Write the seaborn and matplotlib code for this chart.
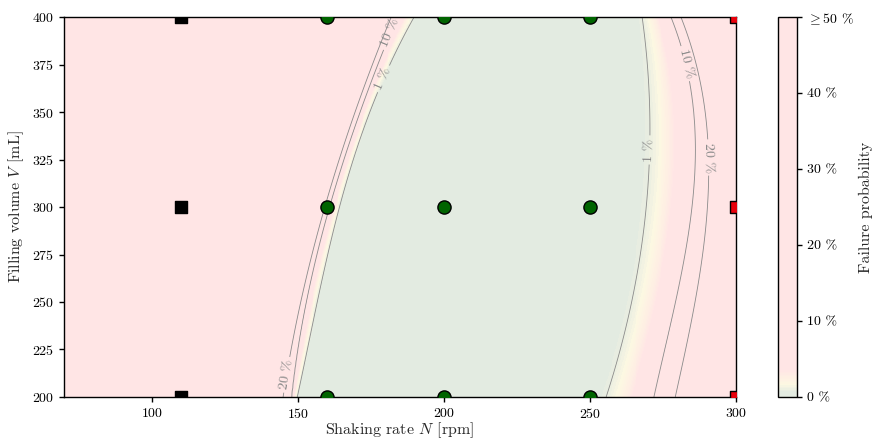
import numpy as np
import pandas as pd
import matplotlib
matplotlib.use("Agg")
import matplotlib.pyplot as plt
import seaborn as sns
from matplotlib.colors import LinearSegmentedColormap, Normalize
from matplotlib.cm import ScalarMappable

# ---------------- data ----------------
# experiment points
fail_N = [110, 110, 110]
fail_V = [200, 300, 400]
ok_N = [160, 160, 160, 200, 200, 200, 250, 250, 250]
ok_V = [200, 300, 400, 200, 300, 400, 200, 300, 400]
fail2_N = [300, 300, 300]
fail2_V = [200, 300, 400]

# failure-probability contour positions (shaking rate N) at several volumes
left_V = [200, 250, 300, 350, 400]
left_p20 = [145.0, 151.0, 159.3, 169.6, 182.0]
left_p10 = [148.0, 152.9, 161.0, 171.3, 184.0]
left_p01 = [150.0, 156.0, 165.3, 174.0, 190.0]

right_V = [200, 250, 300, 335, 400]
right_p01 = [255.6, 264.1, 269.6, 270.3, 267.9]
right_p10 = [272.0, 278.8, 285.8, 285.5, 277.8]
right_p20 = [279.3, 285.6, 290.9, 289.9, 281.2]

levels = [0.01, 0.10, 0.20]
level_labels = ["1 %", "10 %", "20 %"]
cbar_ticks = [0.0, 0.1, 0.2, 0.3, 0.4, 0.5]
cbar_ticklabels = ["0 %", "10 %", "20 %", "30 %", "40 %", r"$\geq 50$ %"]

# ---------------- build probability field from the contour table ----------------
def logit(p):
    return np.log(p / (1 - p))

L01, L10, L20 = logit(0.01), logit(0.10), logit(0.20)

xg = np.linspace(70, 300, 700)
yg = np.linspace(200, 400, 300)
X, Y = np.meshgrid(xg, yg)

def smooth_boundary(vs, xs, v):
    # smooth curve through the read-off boundary points
    return np.polyval(np.polyfit(vs, xs, 3), v)

def side_profile(x, xa, xb, xc, la, lb, lc):
    s1 = (lb - la) / (xb - xa)
    s2 = (lc - lb) / (xc - xb)
    return np.where(x <= xb, la + (x - xa) * s1,
           np.where(x <= xc, lb + (x - xb) * s2, lc + (x - xc) * s2))

a20 = smooth_boundary(left_V, left_p20, yg)
a10 = smooth_boundary(left_V, left_p10, yg)
a01 = smooth_boundary(left_V, left_p01, yg)
b01 = smooth_boundary(right_V, right_p01, yg)
b10 = smooth_boundary(right_V, right_p10, yg)
b20 = smooth_boundary(right_V, right_p20, yg)

Lfield = np.empty_like(X)
for i in range(len(yg)):
    fl = side_profile(xg, a20[i], a10[i], a01[i], L20, L10, L01)
    fr = side_profile(xg, b01[i], b10[i], b20[i], L01, L10, L20)
    Lfield[i] = np.maximum(fl, fr)
P = 1 / (1 + np.exp(-Lfield))

# ---------------- styling ----------------
sns.set_style("ticks")
plt.rcParams.update({
    "font.family": ["serif"],
    "font.serif": ["cmr10", "DejaVu Serif"],
    "mathtext.fontset": "cm",
    "axes.formatter.use_mathtext": True,
    "axes.unicode_minus": False,
    "axes.edgecolor": "black",
    "axes.linewidth": 1.0,
    "xtick.color": "black",
    "ytick.color": "black",
    "xtick.major.width": 1.0,
    "ytick.major.width": 1.0,
    "xtick.major.size": 3.5,
    "ytick.major.size": 3.5,
})

green_c = "#e3ebe1"
yellow_c = "#fdf8e2"
pink_c = "#ffe5e5"
cmap = LinearSegmentedColormap.from_list(
    "fail", [(0.0, green_c), (0.012, green_c), (0.032, yellow_c), (0.07, pink_c), (1.0, pink_c)])
norm = Normalize(0, 0.5)

fig = plt.figure(figsize=(8.75, 4.41), dpi=100)
ax = fig.add_axes([64 / 875, 44 / 441, 672 / 875, 380 / 441])
cax = fig.add_axes([778 / 875, 44 / 441, 19 / 875, 380 / 441])

ax.pcolormesh(X, Y, np.clip(P, 0, 0.5), cmap=cmap, norm=norm, shading="auto", rasterized=True, zorder=0)
cs = ax.contour(X, Y, P, levels=levels, colors="#8a8a8a", linewidths=0.6, zorder=1)
fmt = {lv: lab for lv, lab in zip(levels, level_labels)}
ax.clabel(cs, fmt=fmt, fontsize=10, colors="#8a8a8a", inline=True, inline_spacing=3,
          manual=[(145.0, 212), (182.5, 391), (180.0, 367), (281.5, 375), (270.9, 330), (289.0, 326)])

df_fail = pd.DataFrame({"N": fail_N, "V": fail_V})
df_ok = pd.DataFrame({"N": ok_N, "V": ok_V})
df_fail2 = pd.DataFrame({"N": fail2_N, "V": fail2_V})
sns.scatterplot(data=df_fail, x="N", y="V", marker="s", s=80, color="black",
                edgecolor="black", linewidth=1, ax=ax, zorder=5, legend=False)
sns.scatterplot(data=df_ok, x="N", y="V", marker="o", s=90, color="#006400",
                edgecolor="black", linewidth=1, ax=ax, zorder=5, legend=False)
sns.scatterplot(data=df_fail2, x="N", y="V", marker="s", s=80, color="#e8000b",
                edgecolor="black", linewidth=1, ax=ax, zorder=5, legend=False)

ax.set_xlim(70, 300)
ax.set_ylim(200, 400)
ax.set_xticks([100, 150, 200, 250, 300])
ax.set_yticks([200, 225, 250, 275, 300, 325, 350, 375, 400])
ax.tick_params(labelsize=10)
ax.set_xlabel(r"Shaking rate $N$ [rpm]", fontsize=11.5, labelpad=0)
ax.set_ylabel(r"Filling volume $V$ [mL]", fontsize=11.5, labelpad=4)
for sp in ax.spines.values():
    sp.set_visible(True)

cb = fig.colorbar(ScalarMappable(norm=norm, cmap=cmap), cax=cax)
cb.set_ticks(cbar_ticks)
cb.set_ticklabels(cbar_ticklabels)
cb.ax.tick_params(labelsize=10, width=1.0, length=3.5)
cb.outline.set_linewidth(1.0)
cb.outline.set_edgecolor("black")
cb.set_label("Failure probability", fontsize=11.5, labelpad=4)

fig.savefig("out.png", dpi=100)
